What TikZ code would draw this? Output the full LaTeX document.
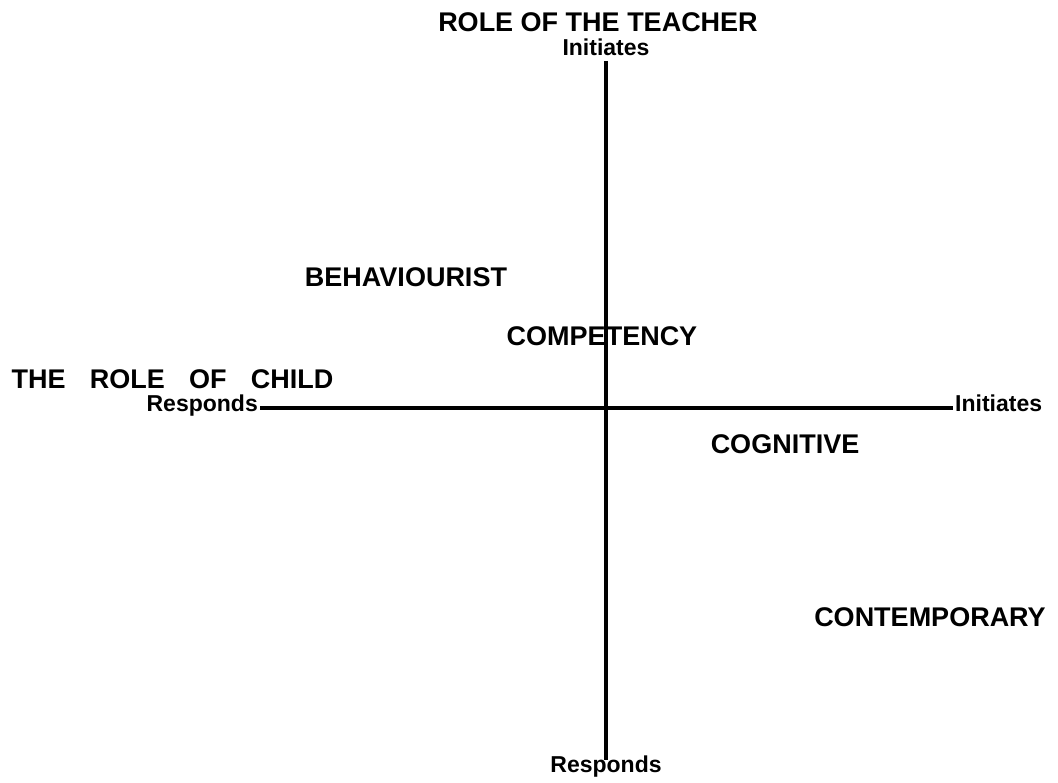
\documentclass[tikz,border=0pt]{standalone}
\usepackage{fontspec}
\setmainfont{Liberation Sans}

\begin{document}
\begin{tikzpicture}[x=1pt,y=-1pt,
  quad/.style={font=\fontsize{27}{27}\selectfont\bfseries},
  pole/.style={font=\fontsize{23}{23}\selectfont\bfseries,inner sep=2pt,text height=2ex,text depth=.5ex}]
\useasboundingbox(0,0)rectangle(1058,783);
\node[quad](teacher)at(598,22){ROLE OF THE TEACHER};
\node[pole](tinit)at(606,52){Initiates};
\node[pole](bresp)at(606,769){Responds};
\node[quad,anchor=west](child)at(8,379){THE\hspace{.9em}ROLE\hspace{.9em}OF\hspace{.9em}CHILD};
\node[pole,anchor=east](lresp)at(260,408){Responds};
\node[pole,anchor=west](rinit)at(953,408){Initiates};
\draw[line width=4pt](tinit)--(bresp);
\draw[line width=3.5pt](lresp)--(rinit);
\node[quad](beh)at(406,277){BEHAVIOURIST};
\node[quad](comp)at(602,336){COMPETENCY};
\node[quad](cog)at(785,444){COGNITIVE};
\node[quad](cont)at(930,617){CONTEMPORARY};
\end{tikzpicture}
\end{document}
